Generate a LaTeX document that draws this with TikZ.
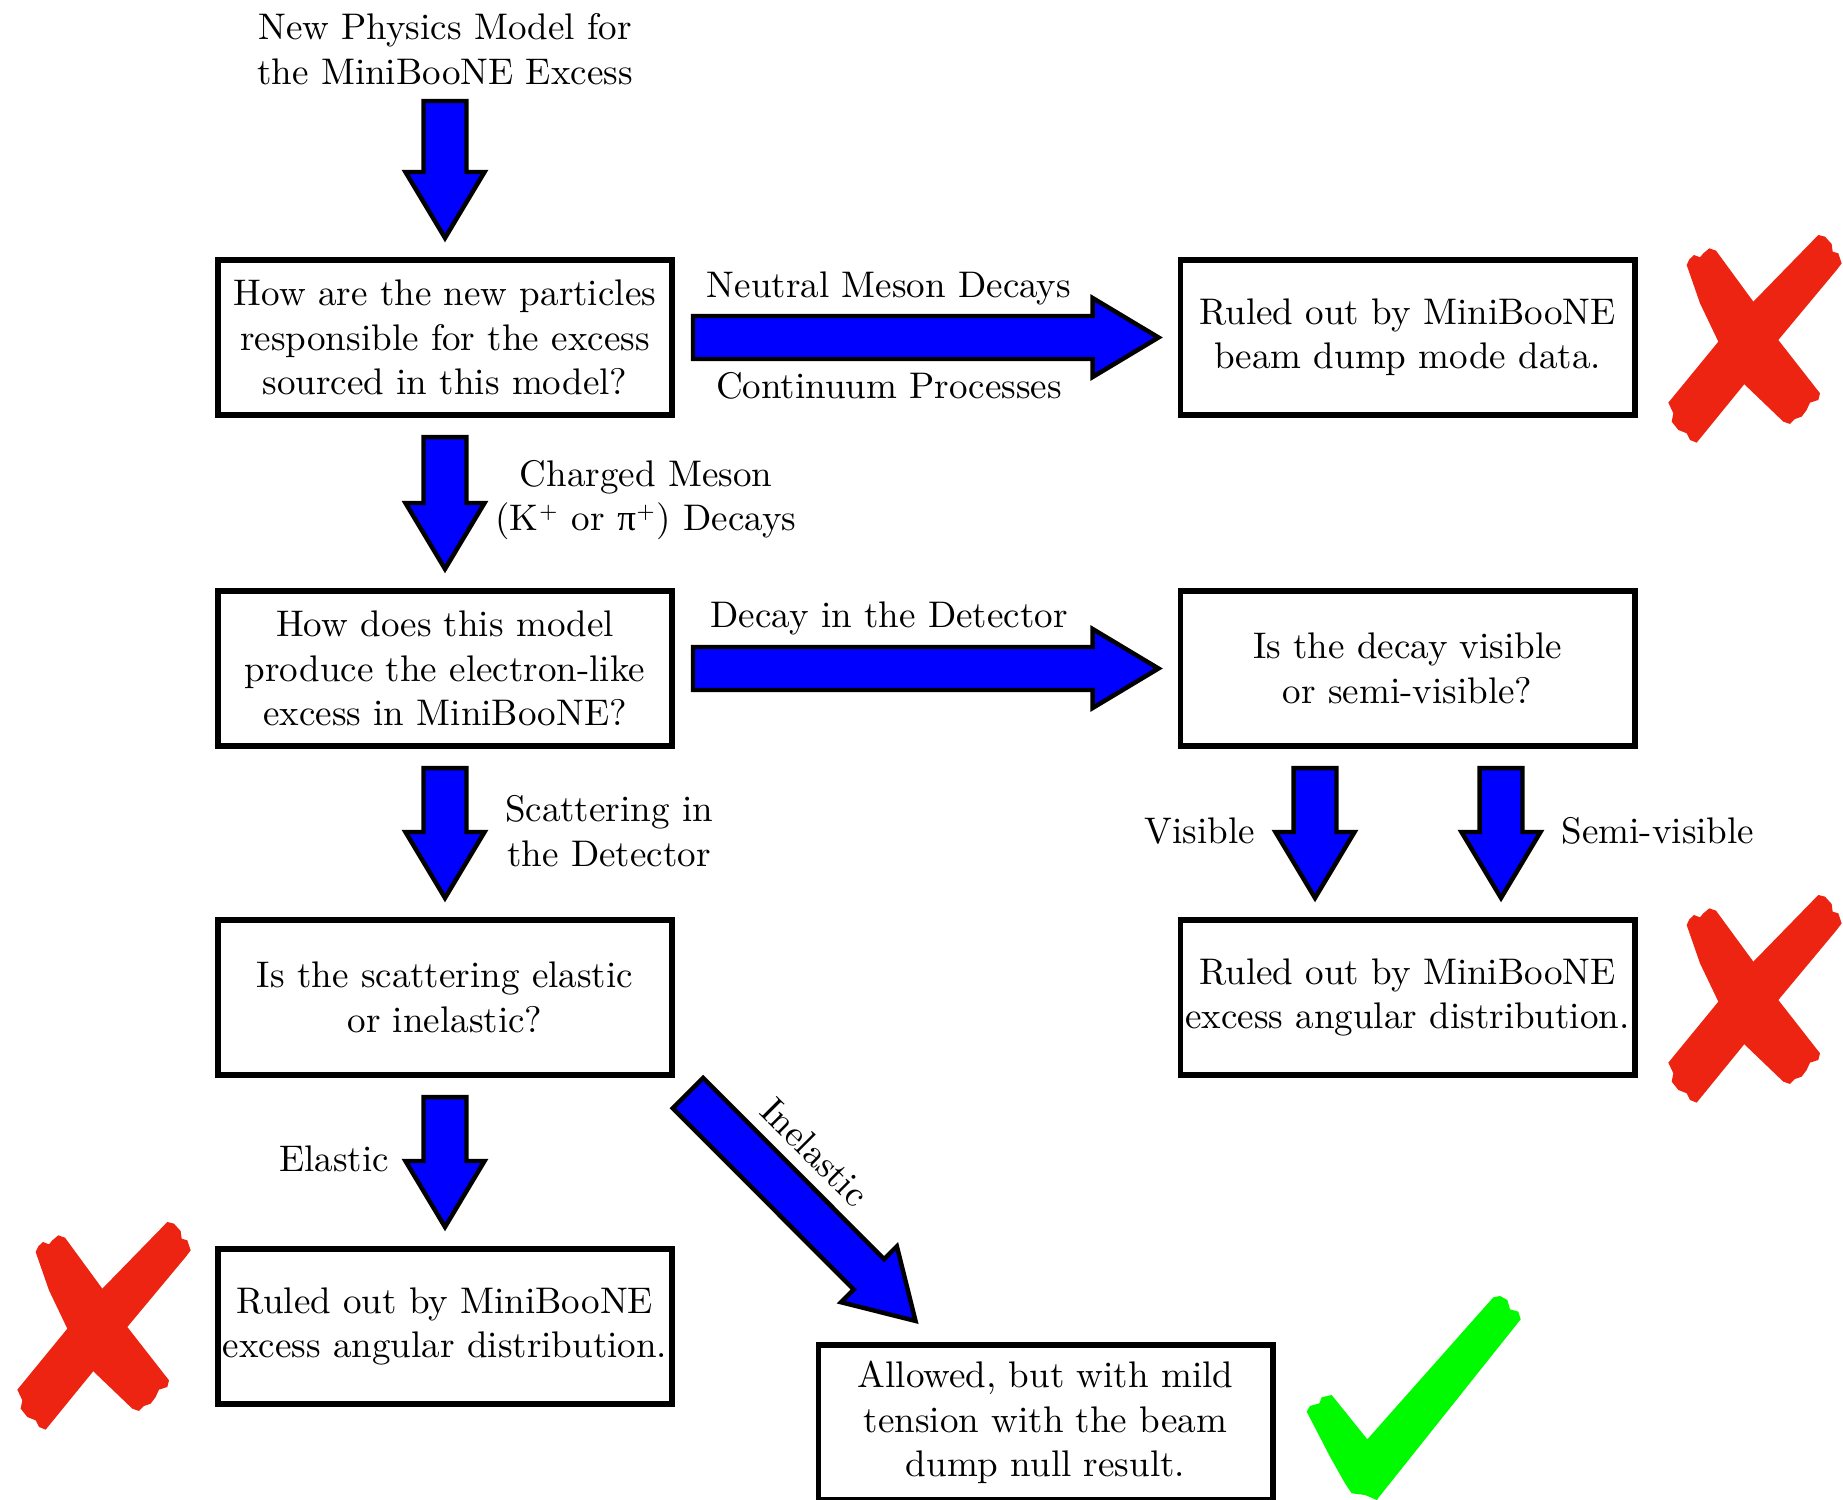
\documentclass[tikz,border=0pt]{standalone}
\usepackage{fontspec}
\newfontfamily\timesgk{Liberation Serif}
\usetikzlibrary{calc}
\definecolor{xred}{RGB}{237,36,18}
\definecolor{okgreen}{RGB}{0,250,0}
\tikzset{
  box/.style={draw, line width=1.6pt, minimum width=122.6pt, minimum height=41.9pt, inner xsep=1pt, align=center, fill=white},
  lbl/.style={align=center, inner sep=1pt},
  blockarrow/.style={draw=black, fill=blue, line width=1.2pt, line join=miter}
}
\newcommand\blockarr[2]{%
  \path (#1) coordinate (baS) (#2) coordinate (baE) ($(#2)!17.8pt!(#1)$) coordinate (baM);
  \draw[blockarrow] ($(baS)!5.8pt!90:(baE)$) -- ($(baM)!5.8pt!90:(baE)$) -- ($(baM)!10.67pt!90:(baE)$) -- (baE) -- ($(baM)!10.67pt!-90:(baE)$) -- ($(baM)!5.8pt!-90:(baE)$) -- ($(baS)!5.8pt!-90:(baE)$) -- cycle;}
\newcommand\redcross[1]{%
  \begin{scope}[shift={#1}, x=0.09pt, y=-0.09pt]
    \fill[xred] (110,135) -- (118,118) -- (132,105) -- (150,112) -- (160,100) -- (178,85) -- (198,92) -- (310,245) -- (385,360) -- (510,520) -- (505,540) -- (480,548) -- (470,570) -- (455,590) -- (435,597) -- (420,612) -- (400,605) -- (280,490) -- (205,365) -- (150,250) -- cycle;
    \fill[xred] (505,45) -- (525,50) -- (545,72) -- (548,95) -- (565,100) -- (575,130) -- (560,150) -- (385,360) -- (285,490) -- (140,668) -- (120,660) -- (110,640) -- (85,630) -- (65,605) -- (70,580) -- (55,548) -- (205,365) -- (310,245) -- cycle;
  \end{scope}}
\newcommand\smallplus{$^{\scriptscriptstyle +}$}
\begin{document}
\begin{tikzpicture}[x=0.27pt, y=-0.27pt]
\useasboundingbox (0,0) rectangle (1843,1500);

% nodes
\node[lbl] (title) at (445,49) {New Physics Model for\\the MiniBooNE Excess};
\node[box] (b1) at (445,337.5) {How are the new particles\\responsible for the excess\\sourced in this model?};
\node[box] (b2) at (445,668.5) {How does this model\\produce the electron-like\\excess in MiniBooNE?};
\node[box] (b3) at (445,997.5) {Is the scattering elastic\\or inelastic?};
\node[box] (b4) at (445,1326.5) {Ruled out by MiniBooNE\\excess angular distribution.};
\node[box] (r1) at (1407.5,337.5) {Ruled out by MiniBooNE\\beam dump mode data.};
\node[box] (r2) at (1407.5,668.5) {Is the decay visible\\or semi-visible?};
\node[box] (r3) at (1407.5,997.5) {Ruled out by MiniBooNE\\excess angular distribution.};
\node[box] (b5) at (1045.5,1422.5) {Allowed, but with mild\\tension with the beam\\dump null result.};

% coordinates
\coordinate (t0) at (445,101);
\coordinate (t1) at ($(b1.north)+(0,-19)$);
\coordinate (s12) at ($(b1.south)+(0,19)$);
\coordinate (e12) at ($(b2.north)+(0,-19)$);
\coordinate (s23) at ($(b2.south)+(0,19)$);
\coordinate (e23) at ($(b3.north)+(0,-19)$);
\coordinate (s34) at ($(b3.south)+(0,19)$);
\coordinate (e34) at ($(b4.north)+(0,-19)$);
\coordinate (sh1) at ($(b1.east)+(18,0)$);
\coordinate (eh1) at ($(r1.west)+(-19,0)$);
\coordinate (sh2) at ($(b2.east)+(18,0)$);
\coordinate (eh2) at ($(r2.west)+(-19,0)$);
\coordinate (sv1) at ($(r2.south)+(-92.5,19)$);
\coordinate (ev1) at ($(r3.north)+(-92.5,-19)$);
\coordinate (sv2) at ($(r2.south)+(93.5,19)$);
\coordinate (ev2) at ($(r3.north)+(93.5,-19)$);
\coordinate (sd) at ($(b3.south east)+(13,15)$);
\coordinate (ed) at ($(b5.north west)+(100,-21)$);

% arrows
\blockarr{t0}{t1}
\blockarr{s12}{e12}
\blockarr{s23}{e23}
\blockarr{s34}{e34}
\blockarr{sh1}{eh1}
\blockarr{sh2}{eh2}
\blockarr{sv1}{ev1}
\blockarr{sv2}{ev2}
\blockarr{sd}{ed}

% labels
\node[lbl] (l1) at (889,288) {Neutral Meson Decays};
\node[lbl] (l2) at (889,386) {Continuum Processes};
\node[lbl] (l3) at (646,500) {Charged Meson\\(K\smallplus{} or {\timesgk π}\smallplus) Decays};
\node[lbl] (l4) at (889,618) {Decay in the Detector};
\node[lbl] (l5) at (609,831) {Scattering in\\the Detector};
\node[lbl] (l6) at (1200,831) {Visible};
\node[lbl] (l7) at (1658,831) {Semi-visible};
\node[lbl] (l8) at (334,1159) {Elastic};
\node[lbl, rotate=-45] (l9) at (815,1152) {Inelastic};

% marks
\redcross{(1650,220)}
\redcross{(1650,880)}
\redcross{(-1,1207)}
\begin{scope}[shift={(1280,1280)}, x=0.09pt, y=-0.09pt]
  \fill[okgreen] (80,395) -- (90,378) -- (118,370) -- (125,352) -- (155,345) -- (262,478) -- (640,52) -- (660,48) -- (682,60) -- (690,88) -- (715,95) -- (722,118) -- (290,660) -- (255,645) -- (215,640) -- (195,610) -- (150,530) -- cycle;
\end{scope}
\end{tikzpicture}
\end{document}
